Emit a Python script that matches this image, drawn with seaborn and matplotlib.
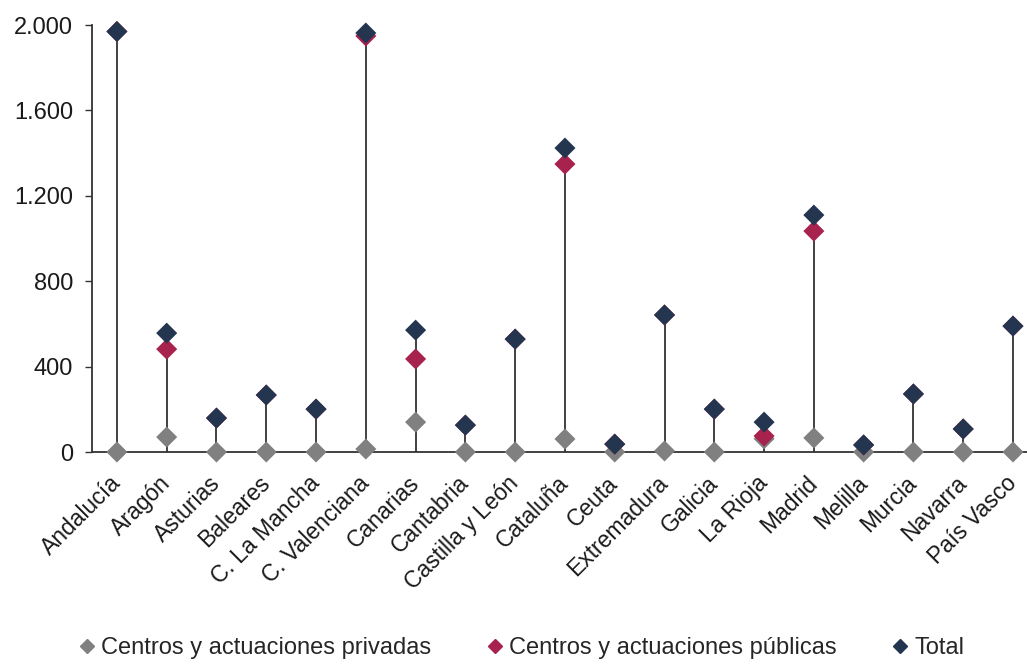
import matplotlib.pyplot as plt
import matplotlib.ticker as mticker
import seaborn as sns
import pandas as pd

regiones = ["Andalucía", "Aragón", "Asturias", "Baleares", "C. La Mancha",
            "C. Valenciana", "Canarias", "Cantabria", "Castilla y León", "Cataluña",
            "Ceuta", "Extremadura", "Galicia", "La Rioja", "Madrid", "Melilla",
            "Murcia", "Navarra", "País Vasco"]
privadas = [0, 70, 0, 0, 0, 14, 140, 0, 0, 61, 0, 5, 0, 62, 66, 0, 0, 0, 0]
publicas = [1970, 482, 159, 267, 201, 1949, 436, 126, 529, 1349, 37, 642, 201, 75, 1035, 33, 272, 108, 590]
total = [1970, 557, 159, 267, 201, 1963, 571, 126, 529, 1424, 37, 642, 201, 140, 1110, 33, 272, 108, 590]
series = ["Centros y actuaciones privadas", "Centros y actuaciones públicas", "Total"]
colores = ["#808080", "#A8224E", "#243550"]

# long format, order decides what is drawn on top
frames = []
for name, vals in zip(series, [privadas, publicas, total]):
    frames.append(pd.DataFrame({"region": regiones, "valor": vals, "serie": name}))
df = pd.concat(frames, ignore_index=True)

sns.set_style("white")
plt.rcParams["font.family"] = ["Liberation Sans", "DejaVu Sans"]

fig = plt.figure(figsize=(10.27, 6.66), dpi=100)
ax = fig.add_axes([0.0896, 0.3213, 0.921, 0.641])

ax.vlines(range(len(regiones)), 0, total, color="#333333", lw=1.3, zorder=1)
sns.scatterplot(data=df, x="region", y="valor", hue="serie", palette=colores,
                marker="D", s=115, edgecolor="none", ax=ax, zorder=3, legend=False,
                clip_on=False)

ax.set_xlim(-0.5, len(regiones) - 0.5)
ax.set_ylim(0, 2000)
ax.set_yticks(range(0, 2001, 400))
ax.yaxis.set_major_formatter(mticker.FuncFormatter(lambda v, p: f"{int(v):,}".replace(",", ".")))
ax.set_xlabel(None)
ax.set_ylabel(None)
ax.tick_params(axis="y", labelsize=17, length=5, width=1, color="#333333", left=True, pad=8.5, labelcolor="#1a1a1a")
ax.tick_params(axis="x", labelsize=16.5, length=0, pad=20, labelcolor="#1a1a1a")
plt.setp(ax.get_xticklabels(), rotation=45, ha="right", va="center", rotation_mode="anchor")
for side in ["top", "right"]:
    ax.spines[side].set_visible(False)
for side in ["left", "bottom"]:
    ax.spines[side].set_color("#333333")
    ax.spines[side].set_linewidth(1.3)

handles = [plt.Line2D([], [], marker="D", ls="", color=c, markersize=7) for c in colores]
fig.legend(handles, series, loc="lower center", bbox_to_anchor=(0.509, -0.022), ncol=3,
           frameon=False, fontsize=17, handlelength=0.5, handletextpad=0.35, columnspacing=2.45)

fig.savefig("out.png", dpi=100)
